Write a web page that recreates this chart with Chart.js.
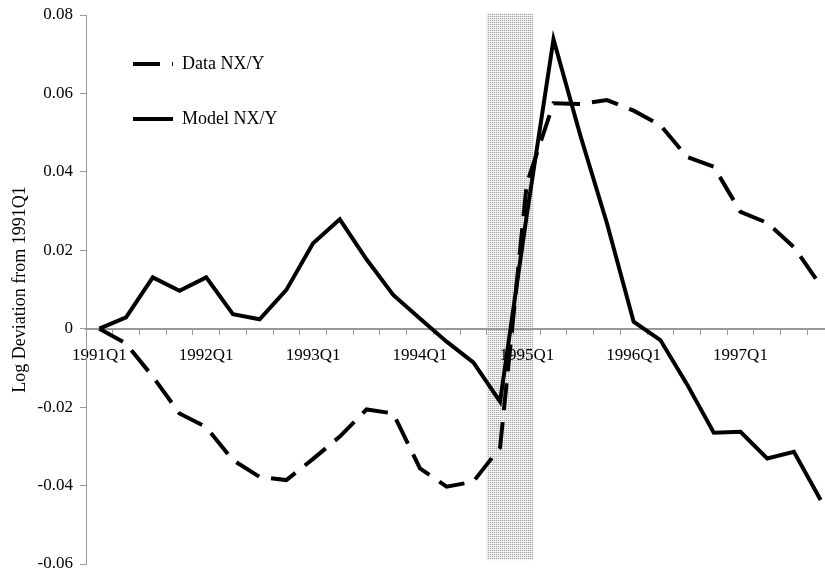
<!DOCTYPE html>
<html>
<head>
<meta charset="utf-8">
<script src="https://cdn.jsdelivr.net/npm/chart.js@4"></script>
<style>
  html, body { margin: 0; padding: 0; background: #fff; overflow: hidden; }
  #wrap { width: 834px; height: 572px; position: relative; }
</style>
</head>
<body>
<div id="wrap"><canvas id="c" width="834" height="572"></canvas></div>
<script>
// ---- data ----
const quarters = [
  '1991Q1','1991Q2','1991Q3','1991Q4',
  '1992Q1','1992Q2','1992Q3','1992Q4',
  '1993Q1','1993Q2','1993Q3','1993Q4',
  '1994Q1','1994Q2','1994Q3','1994Q4',
  '1995Q1','1995Q2','1995Q3','1995Q4',
  '1996Q1','1996Q2','1996Q3','1996Q4',
  '1997Q1','1997Q2','1997Q3','1997Q4'
];
const xTickLabels = ['1991Q1','1992Q1','1993Q1','1994Q1','1995Q1','1996Q1','1997Q1'];
const dataNXY = [
  0, -0.0038, -0.0122, -0.0216, -0.0251, -0.0335, -0.0378, -0.0386,
  -0.0332, -0.0275, -0.0206, -0.0216, -0.0356, -0.0403, -0.0390, -0.0303,
  0.0370, 0.0575, 0.0573, 0.0583, 0.0556, 0.0519, 0.0438, 0.0413,
  0.0298, 0.0270, 0.0208, 0.0110
];
const modelNXY = [
  0, 0.0029, 0.0131, 0.0097, 0.0131, 0.0037, 0.0024, 0.0099,
  0.0218, 0.0279, 0.0177, 0.0086, 0.0026, -0.0033, -0.0086, -0.0186,
  0.0290, 0.0738, 0.0494, 0.0269, 0.0018, -0.0029, -0.0142, -0.0265,
  -0.0263, -0.0331, -0.0314, -0.0437
];
const yTickValues = [-0.06, -0.04, -0.02, 0, 0.02, 0.04, 0.06, 0.08];
// shaded period (category index units / value units)
const shadeStart = 14.5, shadeEnd = 16.25, shadeTop = 0.0805, shadeBottom = -0.059;

const FONT = "'Times New Roman', 'Liberation Serif', serif";

function makePattern(ctx) {
  const t = document.createElement('canvas');
  t.width = 2; t.height = 2;
  const g = t.getContext('2d');
  g.fillStyle = '#ffffff'; g.fillRect(0, 0, 2, 2);
  g.fillStyle = '#a6a6a6'; g.fillRect(0, 0, 1, 1);
  g.fillStyle = '#dedede'; g.fillRect(1, 0, 1, 1);
  g.fillStyle = '#efefef'; g.fillRect(0, 1, 1, 1);
  return ctx.createPattern(t, 'repeat');
}

const shadePlugin = {
  id: 'shade',
  beforeDraw(chart) {
    const {ctx, scales: {x, y}} = chart;
    ctx.save();
    ctx.fillStyle = '#fff';
    ctx.fillRect(0, 0, chart.width, chart.height);
    const x0 = x.getPixelForValue(shadeStart), x1 = x.getPixelForValue(shadeEnd);
    const y0 = y.getPixelForValue(shadeTop), y1 = y.getPixelForValue(shadeBottom);
    ctx.fillStyle = makePattern(ctx);
    ctx.fillRect(x0, y0, x1 - x0, y1 - y0);
    ctx.restore();
  }
};

const legendShift = {
  id: 'legendShift',
  afterLayout(chart) {
    const lg = chart.legend;
    if (!lg) return;
    const dx = 10, dy = 18;
    lg.left += dx; lg.right += dx; lg.top += dy; lg.bottom += dy;
  }
};

new Chart(document.getElementById('c'), {
  type: 'line',
  data: {
    labels: quarters,
    datasets: [
      {
        label: 'Data NX/Y', data: dataNXY, borderColor: '#000', backgroundColor: '#000',
        borderWidth: 4, borderDash: [27, 12], pointRadius: 0, pointStyle: 'line',
        tension: 0, fill: false, order: 1
      },
      {
        label: 'Model NX/Y', data: modelNXY, borderColor: '#000', backgroundColor: '#000',
        borderWidth: 4, pointRadius: 0, pointStyle: 'line',
        tension: 0, fill: false, order: 0
      }
    ]
  },
  options: {
    responsive: false,
    animation: false,
    layout: { padding: { top: 15, bottom: 8, left: 0, right: 0 } },
    plugins: {
      tooltip: { enabled: false },
      legend: {
        position: 'chartArea',
        align: 'start',
        labels: {
          usePointStyle: true,
          pointStyleWidth: 40,
          padding: 37,
          color: '#000',
          font: { family: FONT, size: 18 },
          sort: (a, b) => a.datasetIndex - b.datasetIndex,
          generateLabels(chart) {
            const items = Chart.defaults.plugins.legend.labels.generateLabels(chart);
            items.forEach(it => {
              const ds = chart.data.datasets[it.datasetIndex];
              it.lineDash = ds.borderDash || [];
              it.lineWidth = ds.borderWidth;
              it.strokeStyle = ds.borderColor;
            });
            return items;
          }
        }
      }
    },
    scales: {
      x: {
        type: 'category',
        position: { y: 0 },
        offset: true,
        grid: { offset: true, drawOnChartArea: false, drawTicks: true, tickLength: 5, color: '#999', lineWidth: 1 },
        border: { color: '#999', width: 2 },
        ticks: {
          autoSkip: false, maxRotation: 0, padding: 12, color: '#000',
          font: { family: FONT, size: 17 },
          callback(value, index) {
            const lab = quarters[index];
            return xTickLabels.includes(lab) ? lab : '';
          }
        }
      },
      y: {
        min: -0.06, max: 0.08,
        afterFit(scale) { scale.width = 86; scale.paddingTop = 0; scale.paddingBottom = 0; },
        afterBuildTicks(scale) { scale.ticks = yTickValues.map(v => ({ value: v })); },
        grid: { drawOnChartArea: false, drawTicks: true, tickLength: 6, color: '#999' },
        border: { color: '#999', width: 1 },
        ticks: {
          padding: 7, color: '#000',
          font: { family: FONT, size: 17 },
          callback(v) { const r = Math.round(v * 100) / 100; return r === 0 ? '0' : r.toFixed(2); }
        },
        title: {
          display: true, text: 'Log Deviation from 1991Q1', color: '#000',
          font: { family: FONT, size: 18 }, padding: { top: 9 }
        }
      }
    }
  },
  plugins: [shadePlugin, legendShift]
});
</script>
</body>
</html>
